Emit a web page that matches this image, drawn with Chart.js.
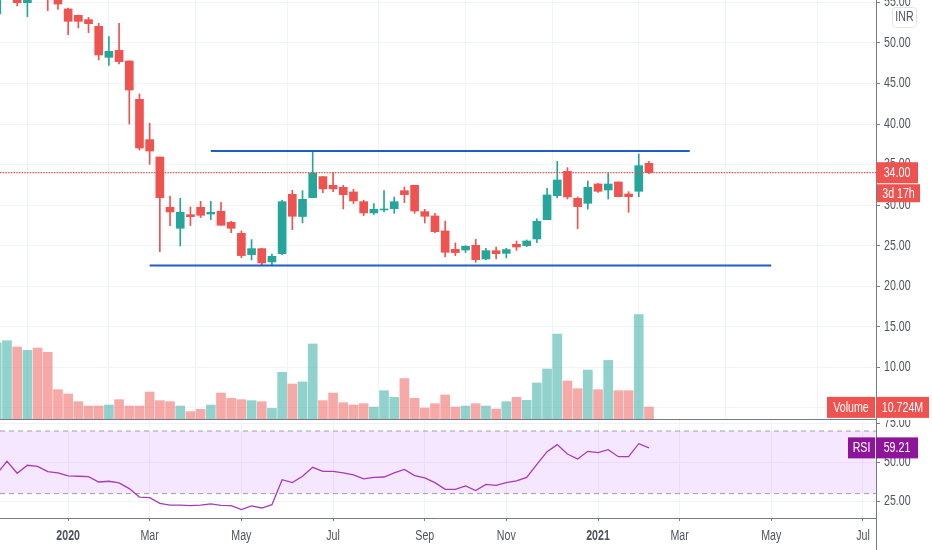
<!doctype html>
<html lang="en">
  <head>
    <meta charset="UTF-8" />
    <title>INR weekly chart</title>
    <script src="https://cdn.jsdelivr.net/npm/chart.js"></script>
    <style>
      body { margin: 0; background: #fff; overflow: hidden; }
      canvas { position: absolute; left: 0; }
      #priceChart { top: 0; }
      #rsiChart { top: 420px; }
    </style>
  </head>
  <body>
    <canvas id="priceChart" width="932" height="420"></canvas>
    <canvas id="rsiChart" width="932" height="130"></canvas>
    <script>
      // weekly bars
      const opens = [53.57, 57.5, 55.9, 54.97, 57, 56, 55.6, 54.2, 53.41, 52.88, 52.05, 48.23, 49.09, 47.78, 43.05, 38.08, 35.94, 29.74, 27.15, 28.83, 29.74, 28.91, 29.24, 27.89, 26.53, 23.9, 24.64, 23.0, 24.02, 31.34, 28.6, 30.93, 33.52, 32.45, 32.2, 31.63, 30.43, 29.04, 29.41, 29.57, 31.79, 32.45, 29.2, 28.67, 26.82, 24.56, 24.47, 25.05, 23.36, 24.39, 24.06, 25.17, 25.01, 25.83, 28.21, 31.17, 34.17, 30.84, 30.23, 32.61, 31.87, 32.86, 31.38, 31.71, 35.16]
      const highs = [56.4, 59, 56.2, 56.4, 57.4, 56.4, 55.8, 54.3, 53.45, 53.16, 52.42, 50.78, 52.42, 47.8, 43.71, 40.1, 35.94, 31.13, 30.85, 29.78, 30.48, 30.48, 30.35, 28.01, 26.82, 25.75, 24.68, 23.98, 30.6, 31.83, 31.79, 36.6, 33.52, 34.05, 32.45, 31.95, 30.6, 30.19, 31.79, 31.01, 32.24, 32.45, 29.49, 28.99, 28.05, 25.34, 25.01, 25.79, 24.68, 24.84, 24.68, 25.58, 25.71, 28.3, 32.08, 35.41, 34.63, 31.01, 32.98, 32.69, 33.97, 32.86, 31.67, 36.31, 35.41]
      const lows = [53.57, 56.5, 54.56, 53.25, 55.6, 53.98, 54.15, 51.03, 51.85, 51.27, 47.9, 47.24, 47.41, 40.01, 36.8, 35.04, 24.27, 27.48, 24.97, 27.48, 28.46, 28.22, 27.5, 26.61, 23.53, 23.24, 22.63, 22.63, 23.9, 26.98, 27.8, 30.93, 31.54, 31.67, 29.53, 30.19, 28.71, 28.87, 29.16, 28.99, 30.31, 28.99, 27.8, 26.61, 23.61, 23.78, 24.15, 22.95, 23.28, 23.36, 23.49, 24.43, 24.88, 25.38, 28.21, 30.89, 30.76, 27.1, 29.53, 31.58, 30.76, 31.05, 29.12, 31.05, 33.88]
      const closes = [56, 58.5, 54.97, 56, 56, 55.4, 54.8, 52.67, 52.67, 52.38, 48.52, 48.97, 47.7, 44.2, 37.05, 36.68, 30.93, 29.16, 29.12, 28.58, 28.75, 29.12, 27.52, 27.15, 23.78, 24.64, 22.87, 23.69, 30.43, 28.63, 30.72, 33.97, 32.0, 32.0, 31.3, 30.52, 29.04, 29.49, 29.53, 30.43, 31.3, 29.28, 28.63, 26.73, 24.19, 24.15, 24.93, 23.28, 24.39, 24.02, 24.52, 24.84, 25.58, 28.01, 31.26, 33.1, 31.01, 29.82, 32.2, 31.71, 32.61, 31.05, 31.05, 34.87, 34.01]
      const volumes = [68, 70, 64.4, 61.4, 63.5, 59.6, 26.2, 22.4, 15.5, 11.6, 11.6, 12.5, 17.3, 11.6, 11.6, 24.1, 16.4, 15.5, 11.6, 6.6, 8.6, 12.5, 23.2, 18.5, 17.3, 16.4, 15.5, 9.5, 41.7, 31.3, 33.1, 67.1, 16.4, 23.2, 14.6, 12.5, 13.7, 10.7, 25.3, 19.4, 36.1, 18.5, 9.8, 13.7, 21.5, 10.7, 11.6, 13.7, 11.6, 8.9, 15.5, 19.4, 16.7, 32.2, 44.7, 76, 34, 27.1, 43.8, 26.2, 52.4, 25.3, 25.3, 93.3, 10.7]
      const rsiValues = [42.5, 50.6, 43.0, 48.1, 47.4, 44.0, 43.2, 41.3, 41.1, 40.8, 37.4, 37.9, 36.8, 33.2, 27.8, 27.4, 23.8, 22.7, 22.7, 22.3, 22.7, 23.4, 22.5, 22.3, 19.8, 22.1, 20.8, 22.9, 38.9, 37.0, 41.1, 46.8, 44.2, 44.2, 43.2, 41.9, 39.4, 40.4, 40.6, 43.2, 45.5, 41.5, 40.0, 37.0, 32.7, 32.7, 34.9, 31.9, 35.9, 35.3, 37.0, 38.1, 40.4, 48.7, 56.8, 61.3, 55.3, 52.1, 57.0, 56.2, 58.1, 53.6, 53.6, 61.9, 59.2]

      // time axis
      const tickWeeks = [7, 15, 24, 33, 42, 50, 59, 67, 76, 85]
      const tickLabels = ['2020', 'Mar', 'May', 'Jul', 'Sep', 'Nov', '2021', 'Mar', 'May', 'Jul']

      // drawn lines: [week, price]
      const resistanceLine = [[21, 36.68], [68, 36.68]]
      const supportLine = [[15, 22.56], [76, 22.56]]
      const lastPrice = 34.0
      const lastVolume = '10.724M'
      const lastRsi = 59.21
      const countdown = '3d 17h'

      const RED = '#ef5350'
      const GREEN = '#26a69a'
      const GRID = '#f0f3fa'
      const AXIS = '#787b86'
      const TEXT = '#50535e'
      const PURPLE = '#8e1599'
      const FONT = '"Liberation Sans", sans-serif'
      const X_MIN = 0.313
      const X_MAX = 86.28

      const upOrDown = (up, down) => opens.map((o, i) => (closes[i] >= o ? up : down))
      const toLine = (pts) => pts.map(([x, y]) => ({ x, y }))

      // no narrow face installed, so squeeze the text a bit
      const narrowText = {
        id: 'narrowText',
        beforeDraw(chart) {
          const ctx = chart.ctx
          if (ctx.plainFillText) return
          ctx.plainFillText = ctx.fillText
          ctx.fillText = function (text, x, y) {
            this.save()
            this.translate(x, y)
            this.scale(0.76, 1)
            this.plainFillText(text, 0, 0)
            this.restore()
          }
        }
      }

      const xAxis = (showLabels) => ({
        type: 'linear',
        offset: false,
        min: X_MIN,
        max: X_MAX,
        afterBuildTicks: (axis) => {
          axis.ticks = tickWeeks.map((value) => ({ value }))
        },
        afterFit: (axis) => {
          axis.height = showLabels ? 32 : 0
          axis.paddingLeft = 0
          axis.paddingRight = 0
        },
        grid: { color: GRID, drawTicks: showLabels, tickLength: 3, tickColor: AXIS },
        border: { display: true, color: AXIS },
        ticks: {
          display: showLabels,
          autoSkip: false,
          maxRotation: 0,
          padding: 7,
          color: TEXT,
          font: (ctx) => ({
            family: FONT,
            size: 14,
            weight: /^\d+$/.test(ctx.tick ? ctx.tick.label : '') ? 'bold' : 'normal'
          }),
          callback: (value, index) => tickLabels[index]
        }
      })

      const yAxisBase = {
        position: 'right',
        afterFit: (axis) => {
          axis.width = 56
          axis.paddingTop = 0
          axis.paddingBottom = 0
        },
        grid: { color: GRID, tickLength: 4, tickColor: AXIS },
        border: { display: true, color: AXIS }
      }

      const yTicks = {
        padding: 4,
        color: TEXT,
        font: { family: FONT, size: 14 },
        callback: (value) => value.toFixed(2)
      }

      // coloured tag on the price scale
      const drawTag = (ctx, x, y, w, h, color, text) => {
        ctx.fillStyle = color
        ctx.fillRect(x, y, w, h)
        ctx.fillStyle = '#fff'
        ctx.font = '14px ' + FONT
        ctx.textAlign = 'center'
        ctx.textBaseline = 'middle'
        ctx.fillText(text, x + w / 2, y + h / 2 + 0.5)
      }

      const priceTags = {
        id: 'priceTags',
        afterDraw(chart) {
          const { ctx, chartArea, scales } = chart
          const right = chartArea.right
          const py = scales.y.getPixelForValue(lastPrice)
          const vy = scales.y.getPixelForValue(5)
          ctx.save()
          drawTag(ctx, right, py - 10.5, 42, 21, RED, lastPrice.toFixed(2))
          drawTag(ctx, right + 1, py + 11.5, 43, 18, RED, countdown)
          drawTag(ctx, right - 49, vy - 11, 48, 21, RED, 'Volume')
          drawTag(ctx, right, vy - 11, 53, 21, RED, lastVolume)
          // currency box
          ctx.fillStyle = '#fff'
          ctx.strokeStyle = '#e0e3eb'
          ctx.beginPath()
          ctx.roundRect(892.5, 7.5, 24, 20, 3)
          ctx.fill()
          ctx.stroke()
          ctx.fillStyle = TEXT
          ctx.font = '14px ' + FONT
          ctx.textAlign = 'center'
          ctx.textBaseline = 'middle'
          ctx.fillText('INR', 904.5, 17.5)
          ctx.restore()
        }
      }

      const rsiTags = {
        id: 'rsiTags',
        afterDraw(chart) {
          const { ctx, chartArea, scales, height } = chart
          const right = chartArea.right
          const ry = scales.y.getPixelForValue(lastRsi)
          ctx.save()
          drawTag(ctx, right - 28, ry - 10.5, 27, 21, PURPLE, 'RSI')
          drawTag(ctx, right, ry - 10.5, 42, 21, PURPLE, lastRsi.toFixed(2))
          // price scale line runs down past the time axis
          ctx.strokeStyle = AXIS
          ctx.beginPath()
          ctx.moveTo(Math.round(right) + 0.5, chartArea.bottom)
          ctx.lineTo(Math.round(right) + 0.5, height)
          ctx.stroke()
          ctx.restore()
        }
      }

      new Chart(document.getElementById('priceChart'), {
        type: 'bar',
        plugins: [narrowText, priceTags],
        data: {
          datasets: [
            {
              label: 'Resistance',
              type: 'line',
              data: toLine(resistanceLine),
              borderColor: '#1f5fc4',
              borderWidth: 2,
              pointRadius: 0,
              order: 1
            },
            {
              label: 'Support',
              type: 'line',
              data: toLine(supportLine),
              borderColor: '#1f5fc4',
              borderWidth: 2,
              pointRadius: 0,
              order: 1
            },
            {
              label: 'Last',
              type: 'line',
              data: [
                { x: X_MIN, y: lastPrice },
                { x: X_MAX, y: lastPrice }
              ],
              borderColor: RED,
              borderWidth: 1.2,
              borderDash: [1.5, 1.2],
              pointRadius: 0,
              order: 2
            },
            {
              label: 'Body',
              data: opens.map((o, i) => ({ x: i, y: [o, closes[i]] })),
              backgroundColor: upOrDown(GREEN, RED),
              barThickness: 8,
              order: 3
            },
            {
              label: 'Wick',
              data: highs.map((h, i) => ({ x: i, y: [lows[i], h] })),
              backgroundColor: upOrDown(GREEN, RED),
              barThickness: 1,
              order: 4
            },
            {
              label: 'Volume',
              data: volumes.map((v, i) => ({ x: i, y: v })),
              yAxisID: 'yVol',
              backgroundColor: upOrDown('rgba(38,166,154,0.5)', 'rgba(239,83,80,0.5)'),
              barThickness: 9,
              order: 5
            }
          ]
        },
        options: {
          responsive: false,
          animation: false,
          layout: { padding: { bottom: 1 } },
          datasets: { bar: { grouped: false } },
          plugins: { legend: { display: false }, tooltip: { enabled: false } },
          scales: {
            x: xAxis(false),
            y: {
              ...yAxisBase,
              min: 3.63,
              max: 55.3,
              ticks: { ...yTicks, stepSize: 5, includeBounds: false }
            },
            yVol: { display: false, min: 0, max: 374.6 }
          }
        }
      })

      new Chart(document.getElementById('rsiChart'), {
        type: 'line',
        plugins: [narrowText, rsiTags],
        data: {
          datasets: [
            {
              label: 'RSI',
              data: rsiValues.map((v, i) => ({ x: i, y: v })),
              borderColor: '#a83ab8',
              borderWidth: 1.3,
              pointRadius: 0,
              order: 1
            },
            {
              label: 'Upper',
              data: [
                { x: X_MIN, y: 70 },
                { x: X_MAX, y: 70 }
              ],
              borderColor: 'rgba(120,123,134,0.7)',
              borderWidth: 1,
              borderDash: [5, 4],
              pointRadius: 0,
              fill: '+1',
              backgroundColor: 'rgba(153,21,255,0.1)',
              order: 2
            },
            {
              label: 'Lower',
              data: [
                { x: X_MIN, y: 30 },
                { x: X_MAX, y: 30 }
              ],
              borderColor: 'rgba(120,123,134,0.7)',
              borderWidth: 1,
              borderDash: [5, 4],
              pointRadius: 0,
              order: 2
            }
          ]
        },
        options: {
          responsive: false,
          animation: false,
          plugins: { legend: { display: false }, tooltip: { enabled: false } },
          scales: {
            x: xAxis(true),
            y: {
              ...yAxisBase,
              min: 14.41,
              max: 77.03,
              afterBuildTicks: (axis) => {
                axis.ticks = [25, 50, 75].map((value) => ({ value }))
              },
              ticks: yTicks
            }
          }
        }
      })
    </script>
  </body>
</html>
